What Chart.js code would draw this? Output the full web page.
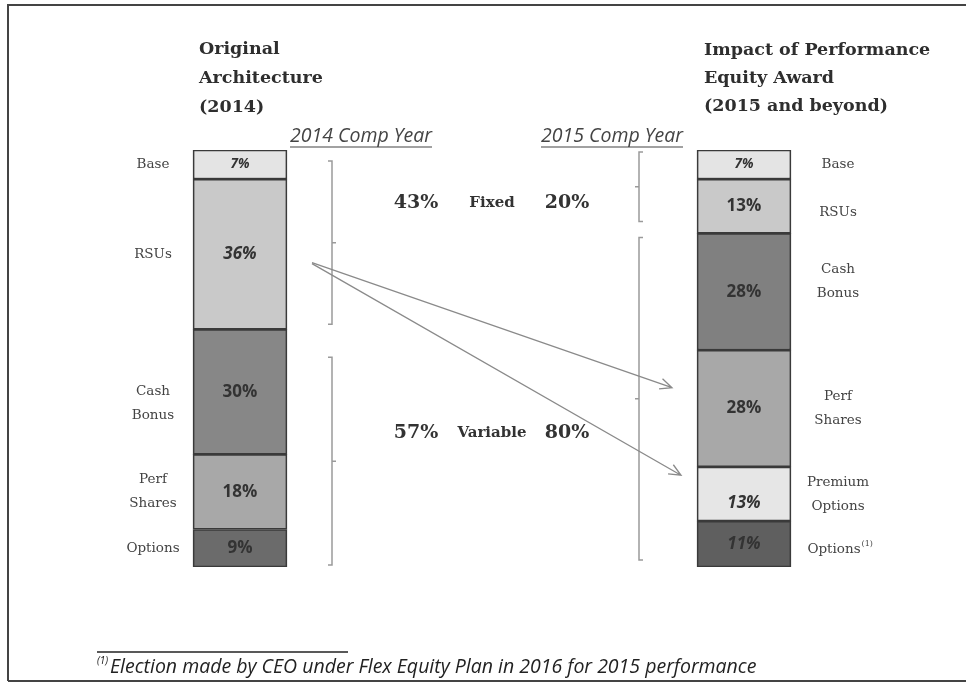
<!DOCTYPE html>
<html>
<head>
<meta charset="utf-8">
<script src="https://cdn.jsdelivr.net/npm/chart.js@4.4.1/dist/chart.umd.min.js"></script>
<style>
  html, body { margin: 0; padding: 0; background: #fff; }
  canvas { display: block; }
</style>
</head>
<body>
<canvas id="compChart" width="966" height="683"></canvas>
<script>
// --- Data (stack order is bottom -> top) ---
const columnLabels = ['2014', '', '2015'];
const segmentNames = ['Options', 'Premium Options', 'Perf Shares', 'Cash Bonus', 'RSUs', 'Base'];
const values2014 = [9, null, 18, 30, 36, 7];
const values2015 = [11, 13, 28, 28, 13, 7];
const fixedShare = [43, 20];      // 2014, 2015
const variableShare = [57, 80];   // 2014, 2015

const titles2014 = ['Original', 'Architecture', '(2014)'];
const titles2015 = ['Impact of Performance', 'Equity Award', '(2015 and beyond)'];
const compYearLabels = ['2014 Comp Year', '2015 Comp Year'];
const sideLabels = [['Options'], ['Premium', 'Options'], ['Perf', 'Shares'], ['Cash', 'Bonus'], ['RSUs'], ['Base']];
const footnote = 'Election made by CEO under Flex Equity Plan in 2016 for 2015 performance';

// --- Styles ---
const segmentColors2014 = ['#6b6b6b', '#e6e6e6', '#a8a8a8', '#878787', '#c9c9c9', '#e4e4e4'];
const segmentColors2015 = ['#5f5f5f', '#e6e6e6', '#a8a8a8', '#808080', '#c9c9c9', '#e4e4e4'];
const italic2014 = [false, false, false, false, true, true];
const italic2015 = [true, true, false, false, false, true];

const datasets = segmentNames.map((name, i) => ({
    label: name,
    data: [values2014[i], null, values2015[i]],
    backgroundColor: [segmentColors2014[i], segmentColors2014[i], segmentColors2015[i]],
    borderColor: '#3a3a3a',
    borderWidth: 1.7,
    borderSkipped: false,
    barThickness: 94
}));

// --- Annotation plugin: titles, labels, braces, arrows ---
function brace(ctx, x, top, bottom, endDir) {
    const mid = (top + bottom) / 2;
    ctx.beginPath();
    ctx.moveTo(x + endDir * 4, top);
    ctx.lineTo(x, top);
    ctx.lineTo(x, bottom);
    ctx.lineTo(x + endDir * 4, bottom);
    ctx.moveTo(x, mid);
    ctx.lineTo(x - endDir * 4, mid);
    ctx.stroke();
}

function arrow(ctx, x0, y0, x1, y1) {
    const ang = Math.atan2(y1 - y0, x1 - x0);
    ctx.beginPath();
    ctx.moveTo(x0, y0);
    ctx.lineTo(x1, y1);
    ctx.moveTo(x1 - 13 * Math.cos(ang - 0.42), y1 - 13 * Math.sin(ang - 0.42));
    ctx.lineTo(x1, y1);
    ctx.lineTo(x1 - 13 * Math.cos(ang + 0.42), y1 - 13 * Math.sin(ang + 0.42));
    ctx.stroke();
}

const annotations = {
    id: 'annotations',
    afterDraw(chart) {
        const ctx = chart.ctx;
        const y = chart.scales.y;
        const leftBar = chart.getDatasetMeta(0).data[0];
        const rightBar = chart.getDatasetMeta(0).data[2];
        const half = leftBar.width / 2;
        const lx = leftBar.x, rx = rightBar.x;

        ctx.save();
        ctx.textBaseline = 'middle';

        // values inside the bars
        chart.data.datasets.forEach((ds, i) => {
            const meta = chart.getDatasetMeta(i);
            [0, 2].forEach(col => {
                const v = ds.data[col];
                if (v == null) return;
                const el = meta.data[col];
                const italic = col === 0 ? italic2014[i] : italic2015[i];
                const size = i === 5 ? 13.5 : 17;
                let cy = (el.y + el.base) / 2;
                if (col === 2 && i === 1) cy += 9;
                ctx.font = (italic ? 'italic ' : '') + 'bold ' + size + 'px "Open Sans"';
                ctx.fillStyle = '#333';
                ctx.textAlign = 'center';
                ctx.fillText(v + '%', el.x, cy);
            });
        });

        // side labels
        ctx.font = '13.5px "DejaVu Serif"';
        ctx.fillStyle = '#444';
        ctx.textAlign = 'center';
        sideLabels.forEach((lines, i) => {
            [0, 2].forEach(col => {
                const v = chart.data.datasets[i].data[col];
                if (v == null) return;
                const el = chart.getDatasetMeta(i).data[col];
                const cx = col === 0 ? lx - half - 40 : rx + half + 47;
                let cy = (el.y + el.base) / 2;
                if (i === 3 && col === 0) cy += 12;
                if (i === 3 && col === 2) cy -= 10;
                if (i === 4 && col === 2) cy += 6;
                if (i === 0 && col === 2) cy += 5;
                const gap = 24;
                lines.forEach((t, k) => {
                    const ty = cy + (k - (lines.length - 1) / 2) * gap;
                    if (i === 0 && col === 2) {
                        ctx.textAlign = 'left';
                        const w = ctx.measureText(t).width;
                        ctx.fillText(t, cx - w / 2 - 4, ty);
                        ctx.font = '8px "DejaVu Serif"';
                        ctx.fillText('(1)', cx + w / 2 - 3, ty - 5);
                        ctx.font = '13.5px "DejaVu Serif"';
                        ctx.textAlign = 'center';
                    } else {
                        ctx.fillText(t, cx, ty);
                    }
                });
            });
        });

        // titles
        ctx.font = 'bold 17.5px "DejaVu Serif"';
        ctx.fillStyle = '#2e2e2e';
        ctx.textAlign = 'left';
        titles2014.forEach((t, k) => ctx.fillText(t, lx - half + 6, 49 + k * 29));
        titles2015.forEach((t, k) => ctx.fillText(t, rx - half + 7, 50 + k * 28));

        // comp year headings (underlined)
        ctx.font = 'italic 19.5px "Open Sans"';
        ctx.fillStyle = '#444';
        ctx.strokeStyle = '#444';
        ctx.lineWidth = 1.2;
        ctx.textAlign = 'center';
        [361, 612].forEach((cx, k) => {
            ctx.fillText(compYearLabels[k], cx, 136);
            const w = ctx.measureText(compYearLabels[k]).width;
            ctx.beginPath();
            ctx.moveTo(cx - w / 2, 147);
            ctx.lineTo(cx + w / 2, 147);
            ctx.stroke();
        });

        // fixed / variable shares
        const fixedY = 203, varY = 433;
        ctx.fillStyle = '#333';
        ctx.font = 'bold 19px "DejaVu Serif"';
        ctx.fillText(fixedShare[0] + '%', 416, fixedY);
        ctx.fillText(fixedShare[1] + '%', 567, fixedY);
        ctx.fillText(variableShare[0] + '%', 416, varY);
        ctx.fillText(variableShare[1] + '%', 567, varY);
        ctx.font = 'bold 15px "DejaVu Serif"';
        ctx.fillText('Fixed', 492, fixedY);
        ctx.fillText('Variable', 492, varY);

        // braces
        ctx.strokeStyle = '#9a9a9a';
        ctx.lineWidth = 1.5;
        const bx1 = lx + half + 45, bx2 = rx - half - 58;
        brace(ctx, bx1, y.getPixelForValue(100) + 11, y.getPixelForValue(variableShare[0]) - 5, -1);
        brace(ctx, bx1, y.getPixelForValue(variableShare[0]) + 28, y.getPixelForValue(0) - 2, -1);
        brace(ctx, bx2, y.getPixelForValue(100) + 2, y.getPixelForValue(variableShare[1]) - 12, 1);
        brace(ctx, bx2, y.getPixelForValue(variableShare[1]) + 4, y.getPixelForValue(0) - 7, 1);

        // arrows from RSUs to Perf Shares and Premium Options
        ctx.strokeStyle = '#8a8a8a';
        ctx.lineWidth = 1.3;
        const ax = lx + half + 25, ay = y.getPixelForValue(73);
        arrow(ctx, ax, ay, rx - half - 25, y.getPixelForValue(43));
        arrow(ctx, ax, ay + 1, rx - half - 16, y.getPixelForValue(22));

        // footnote
        ctx.strokeStyle = '#222';
        ctx.lineWidth = 1.5;
        ctx.beginPath();
        ctx.moveTo(97, 652);
        ctx.lineTo(348, 652);
        ctx.stroke();
        ctx.fillStyle = '#222';
        ctx.textAlign = 'left';
        ctx.font = 'italic 10px "Open Sans"';
        ctx.fillText('(1)', 97, 661);
        ctx.font = 'italic 19.5px "Open Sans"';
        ctx.fillText(footnote, 110, 667);

        // frame
        ctx.strokeStyle = '#444';
        ctx.lineWidth = 2;
        ctx.beginPath();
        ctx.moveTo(8, 681);
        ctx.lineTo(8, 5);
        ctx.lineTo(966, 5);
        ctx.moveTo(8, 681);
        ctx.lineTo(966, 681);
        ctx.stroke();

        ctx.restore();
    }
};

new Chart(document.getElementById('compChart'), {
    type: 'bar',
    data: { labels: columnLabels, datasets: datasets },
    options: {
        responsive: false,
        animation: false,
        devicePixelRatio: 1,
        layout: { padding: { left: 114, right: 96, top: 150, bottom: 116 } },
        scales: {
            x: { stacked: true, display: false },
            y: { stacked: true, display: false, min: 0, max: 100 }
        },
        plugins: { legend: { display: false }, tooltip: { enabled: false } }
    },
    plugins: [annotations]
});
</script>
</body>
</html>
